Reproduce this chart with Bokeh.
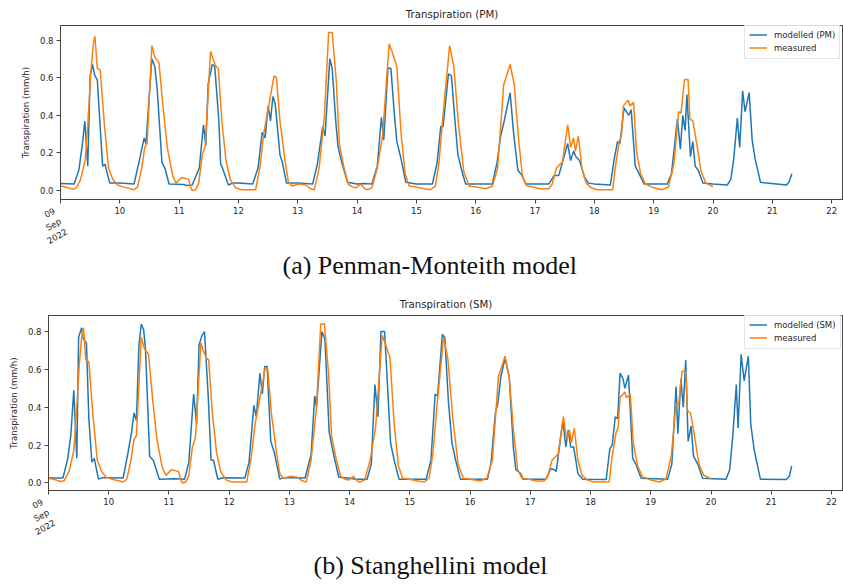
import math
from bokeh.plotting import figure
from bokeh.layouts import column
from bokeh.models import (Range1d, FixedTicker, Legend, LegendItem, LinearAxis, Title,
                          PrintfTickFormatter, ColumnDataSource)
from bokeh.embed import file_html
from bokeh.resources import INLINE

# ---------------- data (time in day-of-month, Sep 2022) ----------------
day_ticks = [9, 10, 11, 12, 13, 14, 15, 16, 17, 18, 19, 20, 21, 22]
tick_labels = ["09\nSep\n2022", "10", "11", "12", "13", "14", "15", "16",
               "17", "18", "19", "20", "21", "22"]
y_ticks = [0.0, 0.2, 0.4, 0.6, 0.8]
captions = ["(a) Penman-Monteith model", "(b) Stanghellini model"]

t_measured = [9.00, 9.10, 9.20, 9.26, 9.34, 9.42, 9.46, 9.51, 9.55, 9.58, 9.62, 9.67, 9.74, 9.81, 9.88, 9.96,
              10.05, 10.16, 10.24, 10.30, 10.37, 10.42, 10.46, 10.54, 10.59, 10.66, 10.73, 10.80, 10.89, 10.95,
              11.04, 11.10, 11.16, 11.19, 11.22, 11.28, 11.33, 11.39, 11.44, 11.53, 11.57, 11.62, 11.66, 11.72,
              11.79, 11.86, 11.95, 12.05, 12.29, 12.36, 12.43, 12.51, 12.60, 12.64, 12.70, 12.79, 12.84, 12.90,
              13.02, 13.13, 13.22, 13.28, 13.36, 13.45, 13.52, 13.58, 13.65, 13.70, 13.78, 13.85, 13.92, 13.98,
              14.06, 14.13, 14.17, 14.25, 14.34, 14.43, 14.54, 14.60, 14.67, 14.74, 14.81, 14.88, 14.99,
              15.13, 15.24, 15.32, 15.38, 15.46, 15.56, 15.63, 15.71, 15.80, 15.89, 16.00, 16.17, 16.28,
              16.37, 16.47, 16.58, 16.65, 16.72, 16.79, 16.86, 16.97, 17.09, 17.23, 17.29, 17.36, 17.42,
              17.46, 17.55, 17.60, 17.65, 17.68, 17.73, 17.79, 17.86, 17.95, 18.05, 18.31, 18.35, 18.42,
              18.46, 18.49, 18.54, 18.57, 18.60, 18.66, 18.71, 18.78, 18.86, 19.00, 19.14, 19.25, 19.34,
              19.42, 19.46, 19.52, 19.58, 19.61, 19.66, 19.72, 19.80, 19.88, 19.95, 20.00]
measured = [0.025, 0.018, 0.008, 0.012, 0.06, 0.17, 0.35, 0.62, 0.77, 0.82, 0.65, 0.64, 0.35, 0.12, 0.06, 0.03,
            0.02, 0.012, 0.005, 0.02, 0.12, 0.23, 0.25, 0.77, 0.71, 0.68, 0.44, 0.23, 0.08, 0.04,
            0.07, 0.065, 0.06, 0.02, 0.0, 0.005, 0.04, 0.19, 0.24, 0.74, 0.70, 0.66, 0.65, 0.37,
            0.16, 0.06, 0.015, 0.005, 0.005, 0.12, 0.31, 0.45, 0.61, 0.60, 0.37, 0.15, 0.05, 0.025,
            0.035, 0.03, 0.01, 0.005, 0.12, 0.40, 0.84, 0.84, 0.58, 0.25, 0.12, 0.035, 0.02, 0.015,
            0.035, 0.01, 0.005, 0.015, 0.12, 0.29, 0.78, 0.73, 0.66, 0.31, 0.09, 0.025, 0.02,
            0.01, 0.005, 0.025, 0.15, 0.44, 0.77, 0.66, 0.35, 0.10, 0.025, 0.02, 0.01, 0.025,
            0.12, 0.56, 0.67, 0.56, 0.28, 0.07, 0.025, 0.02, 0.01, 0.01, 0.035, 0.12, 0.14,
            0.15, 0.35, 0.23, 0.28, 0.21, 0.29, 0.12, 0.04, 0.015, 0.005, 0.005, 0.12, 0.26,
            0.30, 0.45, 0.47, 0.48, 0.45, 0.47, 0.21, 0.09, 0.035, 0.015, 0.005, 0.02, 0.14,
            0.42, 0.41, 0.59, 0.59, 0.38, 0.37, 0.26, 0.10, 0.04, 0.03, 0.02]

t_pm = [9.00, 9.23, 9.31, 9.37, 9.41, 9.46, 9.50, 9.54, 9.58, 9.62, 9.71, 9.75, 9.83, 10.00, 10.24, 10.35,
        10.41, 10.44, 10.54, 10.59, 10.63, 10.71, 10.76, 10.83, 11.08, 11.12, 11.22, 11.34, 11.41, 11.45,
        11.49, 11.56, 11.60, 11.67, 11.70, 11.72, 11.83, 11.90, 12.00, 12.24, 12.33, 12.40, 12.45, 12.50,
        12.54, 12.58, 12.62, 12.70, 12.74, 12.81, 13.00, 13.25, 13.33, 13.42, 13.46, 13.54, 13.58, 13.64,
        13.68, 13.75, 13.84, 14.00, 14.10, 14.25, 14.34, 14.41, 14.45, 14.52, 14.57, 14.63, 14.67, 14.74,
        14.82, 15.00, 15.27, 15.35, 15.41, 15.45, 15.54, 15.59, 15.65, 15.70, 15.77, 15.83, 16.28, 16.36,
        16.42, 16.48, 16.58, 16.64, 16.71, 16.78, 16.85, 17.23, 17.32, 17.40, 17.55, 17.60, 17.65, 17.69,
        17.75, 17.83, 17.90, 18.00, 18.27, 18.33, 18.39, 18.43, 18.50, 18.58, 18.62, 18.69, 18.74, 18.84,
        19.23, 19.30, 19.40, 19.45, 19.49, 19.53, 19.56, 19.62, 19.66, 19.70, 19.75, 19.83, 20.00, 20.24,
        20.30, 20.35, 20.41, 20.45, 20.50, 20.54, 20.61, 20.66, 20.71, 20.80, 20.90, 21.24, 21.28, 21.33]
modelled_pm = [0.038, 0.035, 0.11, 0.25, 0.37, 0.13, 0.61, 0.67, 0.61, 0.59, 0.13, 0.14, 0.04, 0.04, 0.035, 0.19,
               0.28, 0.25, 0.70, 0.66, 0.54, 0.15, 0.12, 0.035, 0.033, 0.028, 0.03, 0.12, 0.35, 0.24,
               0.57, 0.67, 0.66, 0.37, 0.14, 0.13, 0.03, 0.04, 0.04, 0.035, 0.12, 0.31, 0.28, 0.45,
               0.37, 0.50, 0.46, 0.19, 0.15, 0.04, 0.04, 0.035, 0.14, 0.34, 0.29, 0.70, 0.65, 0.37,
               0.23, 0.14, 0.045, 0.035, 0.038, 0.035, 0.13, 0.39, 0.27, 0.65, 0.65, 0.40, 0.26, 0.17,
               0.045, 0.035, 0.035, 0.15, 0.34, 0.34, 0.62, 0.61, 0.37, 0.19, 0.10, 0.035, 0.035, 0.15,
               0.29, 0.37, 0.52, 0.30, 0.11, 0.08, 0.035, 0.035, 0.08, 0.08, 0.25, 0.16, 0.21, 0.18,
               0.16, 0.075, 0.04, 0.035, 0.03, 0.16, 0.26, 0.25, 0.44, 0.40, 0.43, 0.13, 0.10, 0.035,
               0.035, 0.09, 0.38, 0.22, 0.40, 0.32, 0.51, 0.18, 0.26, 0.13, 0.11, 0.04, 0.035, 0.03,
               0.06, 0.17, 0.385, 0.23, 0.53, 0.42, 0.52, 0.27, 0.17, 0.045, 0.04, 0.03, 0.045, 0.09]

t_sm = [9.00, 9.24, 9.32, 9.37, 9.42, 9.47, 9.50, 9.55, 9.58, 9.63, 9.67, 9.72, 9.76, 9.83, 9.90, 10.24,
        10.32, 10.38, 10.42, 10.46, 10.50, 10.54, 10.58, 10.61, 10.68, 10.74, 10.77, 10.84, 11.10, 11.26,
        11.33, 11.41, 11.46, 11.50, 11.55, 11.59, 11.65, 11.70, 11.74, 11.81, 11.90, 12.26, 12.33, 12.41,
        12.45, 12.51, 12.55, 12.59, 12.63, 12.69, 12.75, 12.84, 12.90, 13.26, 13.36, 13.42, 13.45, 13.54,
        13.59, 13.66, 13.72, 13.82, 14.00, 14.10, 14.29, 14.36, 14.42, 14.47, 14.52, 14.58, 14.64, 14.68,
        14.74, 14.82, 15.27, 15.35, 15.42, 15.46, 15.54, 15.58, 15.64, 15.70, 15.76, 15.84, 16.29, 16.35,
        16.42, 16.46, 16.51, 16.58, 16.65, 16.72, 16.76, 16.84, 16.88, 17.26, 17.34, 17.40, 17.43, 17.54,
        17.59, 17.63, 17.67, 17.72, 17.79, 17.87, 18.26, 18.32, 18.36, 18.41, 18.45, 18.49, 18.54, 18.57,
        18.63, 18.70, 18.75, 18.84, 19.28, 19.35, 19.42, 19.45, 19.50, 19.54, 19.58, 19.62, 19.67, 19.71,
        19.78, 19.86, 20.25, 20.31, 20.36, 20.42, 20.45, 20.50, 20.55, 20.62, 20.66, 20.72, 20.82, 21.25,
        21.30, 21.34]
modelled_sm = [0.026, 0.026, 0.13, 0.25, 0.49, 0.13, 0.77, 0.82, 0.76, 0.74, 0.34, 0.11, 0.13, 0.02, 0.028, 0.026,
               0.16, 0.27, 0.37, 0.33, 0.72, 0.84, 0.81, 0.71, 0.14, 0.12, 0.09, 0.02, 0.022, 0.02,
               0.11, 0.47, 0.31, 0.73, 0.78, 0.80, 0.47, 0.12, 0.12, 0.02, 0.027, 0.026, 0.11, 0.41,
               0.35, 0.58, 0.47, 0.615, 0.615, 0.22, 0.16, 0.02, 0.028, 0.026, 0.15, 0.46, 0.40, 0.80,
               0.76, 0.27, 0.17, 0.03, 0.025, 0.02, 0.02, 0.10, 0.52, 0.35, 0.80, 0.80, 0.45, 0.21,
               0.12, 0.02, 0.02, 0.12, 0.47, 0.46, 0.785, 0.77, 0.43, 0.21, 0.12, 0.02, 0.02, 0.11,
               0.37, 0.42, 0.56, 0.66, 0.56, 0.18, 0.07, 0.05, 0.02, 0.02, 0.075, 0.07, 0.06, 0.33,
               0.19, 0.28, 0.19, 0.19, 0.05, 0.02, 0.018, 0.18, 0.20, 0.35, 0.34, 0.58, 0.55, 0.50,
               0.57, 0.13, 0.10, 0.025, 0.02, 0.10, 0.51, 0.26, 0.55, 0.40, 0.65, 0.22, 0.30, 0.14,
               0.10, 0.025, 0.02, 0.07, 0.24, 0.52, 0.29, 0.68, 0.54, 0.67, 0.31, 0.17, 0.02, 0.018,
               0.035, 0.09]

BLUE = "#1f77b4"
ORANGE = "#ff7f0e"
TXT = "#262626"
SPINE = "#444444"


def style_axis(ax):
    ax.major_label_text_font = "DejaVu Sans"
    ax.major_label_text_font_size = "8.5px"
    ax.major_label_text_color = TXT
    ax.major_tick_out = 4
    ax.major_tick_in = 0
    ax.minor_tick_out = 0
    ax.minor_tick_in = 0
    ax.major_label_standoff = 3
    ax.axis_line_color = SPINE
    ax.major_tick_line_color = SPINE


def make_panel(title, model_name, t_mod, v_mod, caption, height, left, bottom_border,
               y0, y1, legend_y, cap_offset, cap_standoff):
    p = figure(width=843, height=height, output_backend="svg", toolbar_location=None,
               x_range=Range1d(9.0, 22.2), y_range=Range1d(y0, y1),
               min_border_left=left, min_border_right=0, min_border_top=23,
               min_border_bottom=bottom_border)
    p.frame_align = False
    p.title.text = title
    p.title.align = "center"
    p.title.text_font = "DejaVu Sans"
    p.title.text_font_size = "10.2px"
    p.title.text_font_style = "normal"
    p.title.text_color = TXT
    p.title.standoff = 12

    p.grid.visible = False
    p.outline_line_color = SPINE
    p.outline_line_width = 1
    p.background_fill_color = "white"

    src_m = ColumnDataSource(dict(t=t_mod, v=v_mod))
    src_meas = ColumnDataSource(dict(t=t_measured, v=measured))
    r1 = p.line("t", "v", source=src_m, line_color=BLUE, line_width=1.5)
    r2 = p.line("t", "v", source=src_meas, line_color=ORANGE, line_width=1.5)

    xa = p.xaxis[0]
    style_axis(xa)
    xa.ticker = FixedTicker(ticks=day_ticks)
    xa.major_label_overrides = {d: ("" if i == 0 else tick_labels[i])
                                for i, d in enumerate(day_ticks)}

    # second axis only for the rotated first date label
    xb = LinearAxis(ticker=FixedTicker(ticks=[day_ticks[0]]),
                    major_label_overrides={day_ticks[0]: tick_labels[0]})
    style_axis(xb)
    xb.axis_line_color = None
    xb.major_tick_line_color = None
    xb.major_tick_out = 0
    xb.major_label_orientation = math.radians(30)
    xb.major_label_standoff = 4
    p.add_layout(xb, "below")

    # figure caption under the axes
    cap = Title(text=caption, align="left", offset=cap_offset, vertical_align="top",
                standoff=cap_standoff, text_font="Liberation Serif", text_font_size="26px",
                text_font_style="normal", text_color="#111111")
    p.add_layout(cap, "below")

    ya = p.yaxis[0]
    style_axis(ya)
    ya.ticker = FixedTicker(ticks=y_ticks)
    ya.formatter = PrintfTickFormatter(format="%.1f")
    ya.axis_label = "Transpiration (mm/h)"
    ya.axis_label_text_font = "DejaVu Sans"
    ya.axis_label_text_font_size = "8.7px"
    ya.axis_label_text_font_style = "normal"
    ya.axis_label_text_color = TXT
    ya.axis_label_standoff = 6

    legend = Legend(items=[LegendItem(label=model_name, renderers=[r1]),
                           LegendItem(label="measured", renderers=[r2])],
                    location=(744 - left, legend_y), orientation="vertical",
                    label_text_font="DejaVu Sans", label_text_font_size="8.5px",
                    label_text_color=TXT, glyph_width=18, glyph_height=13,
                    label_height=13, spacing=0, padding=4, margin=0,
                    label_standoff=7, border_line_color="#cccccc",
                    background_fill_alpha=0.8)
    p.add_layout(legend, "center")
    return p


p1 = make_panel("Transpiration (PM)", "modelled (PM)", t_pm, modelled_pm, captions[0],
                290, 60, 91, -0.047, 0.877, 140, 222, -26)
p2 = make_panel("Transpiration (SM)", "modelled (SM)", t_sm, modelled_sm, captions[1],
                298, 48, 98, -0.040, 0.885, 141, 265, -8)

layout = column(p1, p2, spacing=0)
open("out.html", "w").write(file_html(layout, INLINE))
